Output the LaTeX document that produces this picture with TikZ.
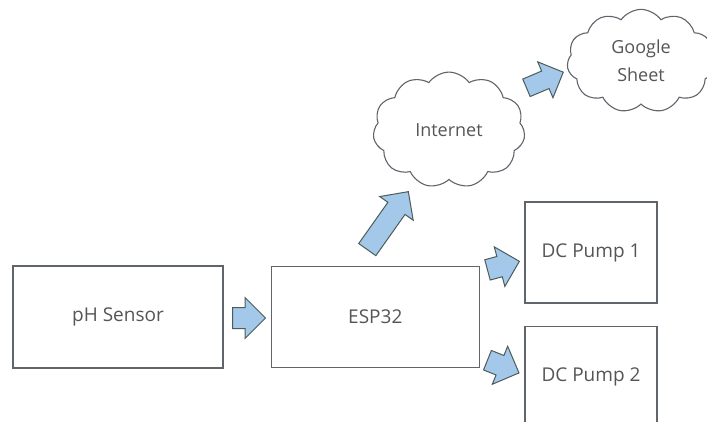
\documentclass[tikz,border=0pt]{standalone}
\usepackage{fontspec}
\setmainfont{Open Sans}
\usetikzlibrary{positioning,shapes.arrows,shapes.symbols}
\definecolor{boxline}{HTML}{5F656B}
\definecolor{arrowfill}{HTML}{A3C8EA}
\definecolor{arrowline}{HTML}{4C5C5A}
\definecolor{txt}{HTML}{555555}
\tikzset{%
	block/.style    = {draw=boxline, line width=1.3pt, rectangle, text=txt, font=\fontsize{19}{23}\selectfont, align=center},
	cloudbox/.style = {draw=boxline, line width=1.1pt, cloud, cloud puffs=11, cloud puff arc=110, text=txt, font=\fontsize{18}{22}\selectfont, align=center},
	fat/.style      = {single arrow, draw=arrowline, fill=arrowfill, line width=1pt, inner xsep=1pt, inner ysep=10pt, single arrow head extend=10pt, anchor=tail},
}
\begin{document}
\begin{tikzpicture}[x=1pt,y=-1pt]
	\useasboundingbox (0,0) rectangle (707,421);
	\clip (0,0) rectangle (707,421);
	\node [block, minimum width=210pt, minimum height=102pt] (ph) at (118,317) {pH Sensor};
	\node [block, minimum width=208pt, minimum height=101pt, right=47pt of ph] (esp) {ESP32};
	\node [block, minimum width=132pt, minimum height=101pt] (pump1) at (591,252.5) {DC Pump 1};
	\node [block, minimum width=132pt, minimum height=101pt, below=22pt of pump1] (pump2) {DC Pump 2};
	\node [cloudbox, minimum width=152pt, minimum height=104pt] (net) at (449,130) {Internet};
	\node [cloudbox, minimum width=148pt, minimum height=103pt] (sheet) at (641,61) {Google\\[6pt]Sheet};
	
	% block arrows
	\node [fat, minimum height=33pt] (a1) at (232,318) {};
	\node [fat, minimum height=71pt, rotate=54.7] (a2) at (367,250) {};
	\node [fat, minimum height=40pt, inner ysep=9pt, rotate=23] (a3) at (526,88) {};
	\node [fat, minimum height=33pt, rotate=15] (a4) at (487,270) {};
	\node [fat, minimum height=34pt, rotate=-22] (a5) at (487,360) {};
\end{tikzpicture}
\end{document}
